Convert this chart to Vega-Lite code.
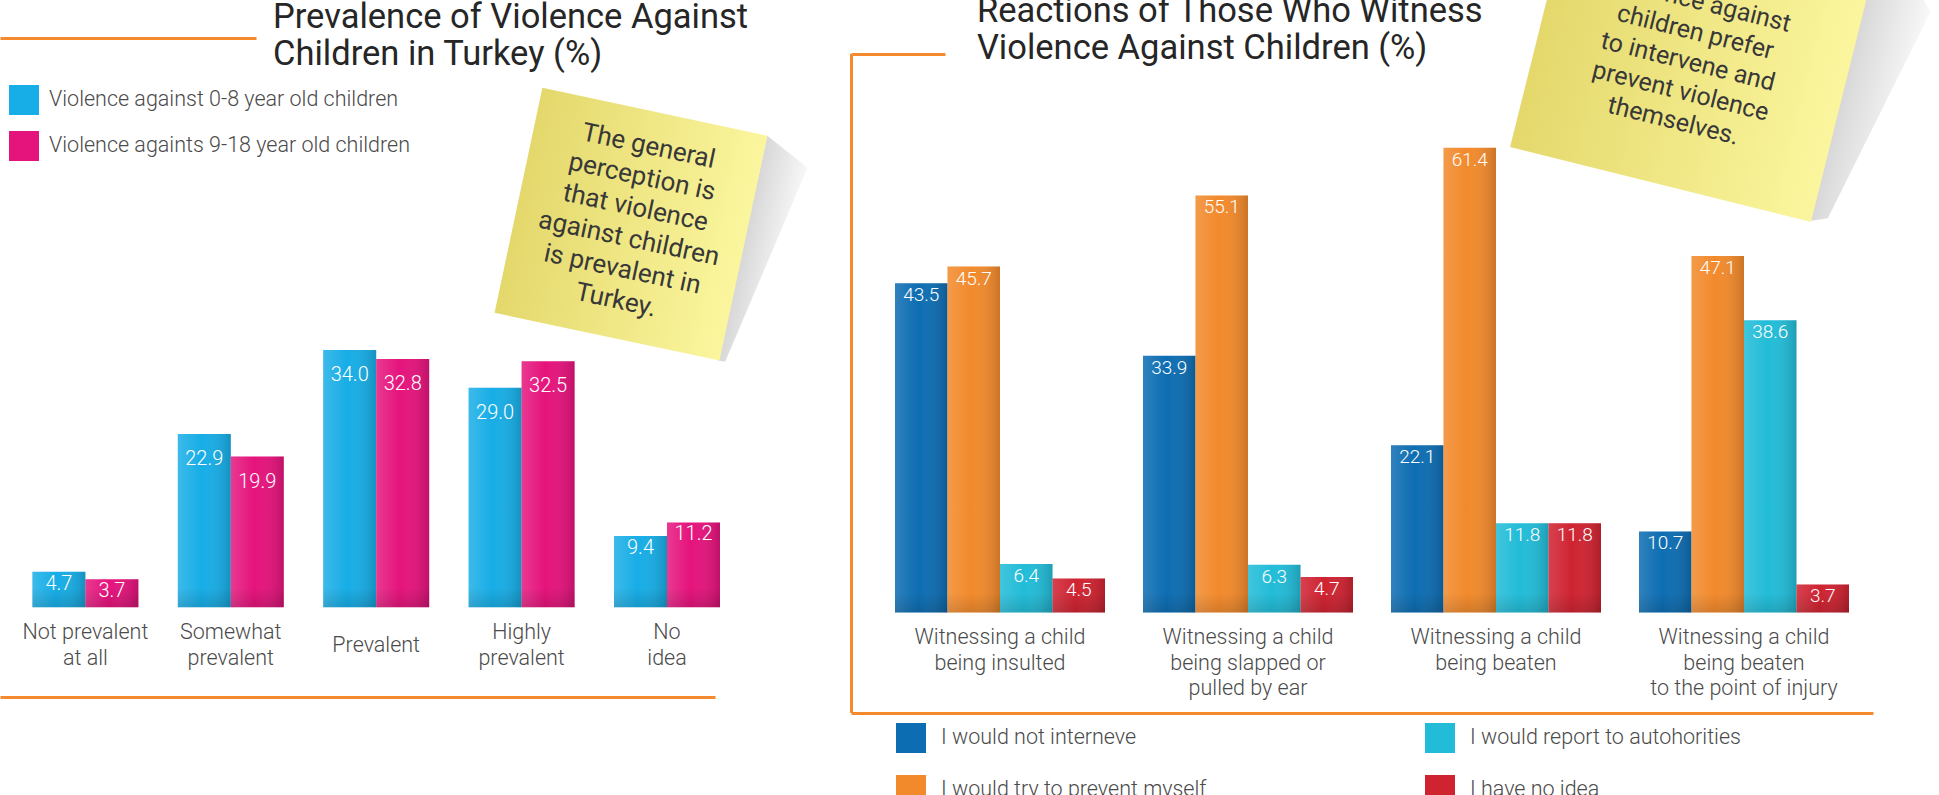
{
  "$schema": "https://vega.github.io/schema/vega-lite/v6.json",
  "width": 1939,
  "height": 795,
  "autosize": {"type": "none"},
  "padding": 0,
  "background": "#ffffff",
  "config": {
    "view": {"stroke": null},
    "font": "Roboto",
    "axis": {"grid": false, "labels": false, "ticks": false, "title": null, "domainColor": "#f58a2e", "domainWidth": 3}
  },
  "datasets": {
    "prevalence": [
      {"category": "Not prevalent\nat all", "series": "Violence against 0-8 year old children", "value": 4.7},
      {"category": "Not prevalent\nat all", "series": "Violence againts 9-18 year old children", "value": 3.7},
      {"category": "Somewhat\nprevalent", "series": "Violence against 0-8 year old children", "value": 22.9},
      {"category": "Somewhat\nprevalent", "series": "Violence againts 9-18 year old children", "value": 19.9},
      {"category": "Prevalent", "series": "Violence against 0-8 year old children", "value": 34.0},
      {"category": "Prevalent", "series": "Violence againts 9-18 year old children", "value": 32.8},
      {"category": "Highly\nprevalent", "series": "Violence against 0-8 year old children", "value": 29.0},
      {"category": "Highly\nprevalent", "series": "Violence againts 9-18 year old children", "value": 32.5},
      {"category": "No\nidea", "series": "Violence against 0-8 year old children", "value": 9.4},
      {"category": "No\nidea", "series": "Violence againts 9-18 year old children", "value": 11.2}
    ],
    "reactions": [
      {"situation": "Witnessing a child\nbeing insulted", "response": "I would not interneve", "value": 43.5},
      {"situation": "Witnessing a child\nbeing insulted", "response": "I would try to prevent myself", "value": 45.7},
      {"situation": "Witnessing a child\nbeing insulted", "response": "I would report to autohorities", "value": 6.4},
      {"situation": "Witnessing a child\nbeing insulted", "response": "I have no idea", "value": 4.5},
      {"situation": "Witnessing a child\nbeing slapped or\npulled by ear", "response": "I would not interneve", "value": 33.9},
      {"situation": "Witnessing a child\nbeing slapped or\npulled by ear", "response": "I would try to prevent myself", "value": 55.1},
      {"situation": "Witnessing a child\nbeing slapped or\npulled by ear", "response": "I would report to autohorities", "value": 6.3},
      {"situation": "Witnessing a child\nbeing slapped or\npulled by ear", "response": "I have no idea", "value": 4.7},
      {"situation": "Witnessing a child\nbeing beaten", "response": "I would not interneve", "value": 22.1},
      {"situation": "Witnessing a child\nbeing beaten", "response": "I would try to prevent myself", "value": 61.4},
      {"situation": "Witnessing a child\nbeing beaten", "response": "I would report to autohorities", "value": 11.8},
      {"situation": "Witnessing a child\nbeing beaten", "response": "I have no idea", "value": 11.8},
      {"situation": "Witnessing a child\nbeing beaten\nto the point of injury", "response": "I would not interneve", "value": 10.7},
      {"situation": "Witnessing a child\nbeing beaten\nto the point of injury", "response": "I would try to prevent myself", "value": 47.1},
      {"situation": "Witnessing a child\nbeing beaten\nto the point of injury", "response": "I would report to autohorities", "value": 38.6},
      {"situation": "Witnessing a child\nbeing beaten\nto the point of injury", "response": "I have no idea", "value": 3.7}
    ]
  },
  "layer": [
    {
      "data": {"name": "prevalence"},
      "layer": [
        {
          "mark": {"type": "bar"},
          "encoding": {
            "x": {"field": "category", "type": "nominal",
              "scale": {"domain": ["Not prevalent\nat all", "Somewhat\nprevalent", "Prevalent", "Highly\nprevalent", "No\nidea"], "range": [0, 720], "paddingInner": 0.271, "paddingOuter": 0.1114, "align": 1, "round": false},
              "axis": {"orient": "bottom", "offset": -98, "domainDash": [715, 3000], "labels": false, "ticks": false, "title": null, "domainColor": "#f58a2e", "domainWidth": 3}},
            "xOffset": {"field": "series", "type": "nominal", "scale": {"domain": ["Violence against 0-8 year old children", "Violence againts 9-18 year old children"]}},
            "y": {"field": "value", "type": "quantitative", "scale": {"domain": [-24.8, 80.22], "nice": false, "zero": false}, "axis": null},
            "color": {"field": "series", "type": "nominal",
              "scale": {"domain": ["Violence against 0-8 year old children", "Violence againts 9-18 year old children"], "range": ["#17ade6", "#e5137c"]},
              "legend": {"orient": "none", "legendX": 9, "legendY": 85, "title": null, "direction": "vertical", "symbolType": "square", "symbolSize": 900, "symbolStrokeWidth": 0, "labelFont": "Roboto", "labelFontWeight": 300, "labelFontSize": 21.5, "labelColor": "#4a4a4a", "labelOffset": 10, "rowPadding": 16, "labelLimit": 700}}
          }
        },
        {
          "mark": {"type": "bar", "color": {"gradient": "linear", "x1": 0, "y1": 0, "x2": 1, "y2": 0, "stops": [{"offset": 0, "color": "rgba(255,255,255,0.16)"}, {"offset": 0.45, "color": "rgba(255,255,255,0)"}, {"offset": 1, "color": "rgba(0,0,0,0.16)"}]}},
          "encoding": {
            "x": {"field": "category", "type": "nominal",
              "scale": {"domain": ["Not prevalent\nat all", "Somewhat\nprevalent", "Prevalent", "Highly\nprevalent", "No\nidea"], "range": [0, 720], "paddingInner": 0.271, "paddingOuter": 0.1114, "align": 1, "round": false},
              "axis": {"orient": "top", "offset": -38, "domainDash": [256, 3000], "labels": false, "ticks": false, "title": null, "domainColor": "#f58a2e", "domainWidth": 3}},
            "xOffset": {"field": "series", "type": "nominal", "scale": {"domain": ["Violence against 0-8 year old children", "Violence againts 9-18 year old children"]}},
            "y": {"field": "value", "type": "quantitative", "scale": {"domain": [-24.8, 80.22], "nice": false, "zero": false}, "axis": null}
          }
        },
        {
          "mark": {"type": "bar", "color": {"gradient": "linear", "x1": 0, "y1": 0, "x2": 0, "y2": 1, "stops": [{"offset": 0, "color": "rgba(0,0,0,0)"}, {"offset": 1, "color": "rgba(0,0,0,0.13)"}]}},
          "encoding": {
            "x": {"field": "category", "type": "nominal", "scale": {"domain": ["Not prevalent\nat all", "Somewhat\nprevalent", "Prevalent", "Highly\nprevalent", "No\nidea"], "range": [0, 720], "paddingInner": 0.271, "paddingOuter": 0.1114, "align": 1, "round": false}, "axis": null},
            "xOffset": {"field": "series", "type": "nominal", "scale": {"domain": ["Violence against 0-8 year old children", "Violence againts 9-18 year old children"]}},
            "y": {"datum": 2.6, "type": "quantitative", "scale": {"domain": [-24.8, 80.22], "nice": false, "zero": false}, "axis": null},
            "y2": {"datum": 0}
          }
        },
        {
          "transform": [{"filter": "datum.value >= 15"}],
          "mark": {"type": "text", "baseline": "middle", "dy": 25, "fontSize": 20, "fontWeight": 300, "color": "#ffffff"},
          "encoding": {
            "x": {"field": "category", "type": "nominal", "scale": {"domain": ["Not prevalent\nat all", "Somewhat\nprevalent", "Prevalent", "Highly\nprevalent", "No\nidea"], "range": [0, 720], "paddingInner": 0.271, "paddingOuter": 0.1114, "align": 1, "round": false}, "axis": null},
            "xOffset": {"field": "series", "type": "nominal", "scale": {"domain": ["Violence against 0-8 year old children", "Violence againts 9-18 year old children"]}},
            "y": {"field": "value", "type": "quantitative", "scale": {"domain": [-24.8, 80.22], "nice": false, "zero": false}, "axis": null},
            "text": {"field": "value", "type": "quantitative", "format": ".1f"}
          }
        },
        {
          "transform": [{"filter": "datum.value < 15"}],
          "mark": {"type": "text", "baseline": "middle", "dy": 12, "fontSize": 20, "fontWeight": 300, "color": "#ffffff"},
          "encoding": {
            "x": {"field": "category", "type": "nominal", "scale": {"domain": ["Not prevalent\nat all", "Somewhat\nprevalent", "Prevalent", "Highly\nprevalent", "No\nidea"], "range": [0, 720], "paddingInner": 0.271, "paddingOuter": 0.1114, "align": 1, "round": false}, "axis": null},
            "xOffset": {"field": "series", "type": "nominal", "scale": {"domain": ["Violence against 0-8 year old children", "Violence againts 9-18 year old children"]}},
            "y": {"field": "value", "type": "quantitative", "scale": {"domain": [-24.8, 80.22], "nice": false, "zero": false}, "axis": null},
            "text": {"field": "value", "type": "quantitative", "format": ".1f"}
          }
        },
        {
          "transform": [{"filter": "datum.series == 'Violence against 0-8 year old children' && datum.category != 'Prevalent'"}],
          "mark": {"type": "text", "baseline": "middle", "dy": 26, "fontSize": 21.5, "fontWeight": 300, "color": "#4a4a4a", "lineBreak": "\n", "lineHeight": 26},
          "encoding": {
            "x": {"field": "category", "type": "nominal", "scale": {"domain": ["Not prevalent\nat all", "Somewhat\nprevalent", "Prevalent", "Highly\nprevalent", "No\nidea"], "range": [0, 720], "paddingInner": 0.271, "paddingOuter": 0.1114, "align": 1, "round": false}, "axis": null},
            "y": {"datum": 0, "type": "quantitative", "scale": {"domain": [-24.8, 80.22], "nice": false, "zero": false}, "axis": null},
            "text": {"field": "category", "type": "nominal"}
          }
        },
        {
          "transform": [{"filter": "datum.series == 'Violence against 0-8 year old children' && datum.category == 'Prevalent'"}],
          "mark": {"type": "text", "baseline": "middle", "dy": 38.5, "fontSize": 21.5, "fontWeight": 300, "color": "#4a4a4a"},
          "encoding": {
            "x": {"field": "category", "type": "nominal", "scale": {"domain": ["Not prevalent\nat all", "Somewhat\nprevalent", "Prevalent", "Highly\nprevalent", "No\nidea"], "range": [0, 720], "paddingInner": 0.271, "paddingOuter": 0.1114, "align": 1, "round": false}, "axis": null},
            "y": {"datum": 0, "type": "quantitative", "scale": {"domain": [-24.8, 80.22], "nice": false, "zero": false}, "axis": null},
            "text": {"field": "category", "type": "nominal"}
          }
        },
        {
          "data": {"values": [{"title": "Prevalence of Violence Against\nChildren in Turkey (%)"}]},
          "mark": {"type": "text", "align": "left", "baseline": "alphabetic", "fontSize": 34.5, "fontWeight": 400, "color": "#262626", "lineBreak": "\n", "lineHeight": 37},
          "encoding": {
            "x": {"datum": "Somewhat\nprevalent", "type": "nominal", "bandPosition": 0.898, "scale": {"domain": ["Not prevalent\nat all", "Somewhat\nprevalent", "Prevalent", "Highly\nprevalent", "No\nidea"], "range": [0, 720], "paddingInner": 0.271, "paddingOuter": 0.1114, "align": 1, "round": false}, "axis": null},
            "y": {"datum": 76.5, "type": "quantitative", "scale": {"domain": [-24.8, 80.22], "nice": false, "zero": false}, "axis": null},
            "text": {"field": "title", "type": "nominal"}
          }
        },
        {
          "data": {"values": [{"note": "shadow"}]},
          "mark": {"type": "point", "shape": "M 1 -1 L 1.4 -0.8 L 1.05 1 L 0.98 1 Z", "filled": true, "opacity": 1, "size": 52900, "angle": 12, "strokeWidth": 0,
            "fill": {"gradient": "linear", "x1": 0, "y1": 0, "x2": 1, "y2": 0, "stops": [{"offset": 0, "color": "#d6d6d6"}, {"offset": 1, "color": "#f8f8f8"}]}},
          "encoding": {
            "x": {"datum": "No\nidea", "type": "nominal", "bandPosition": 0.16, "scale": {"domain": ["Not prevalent\nat all", "Somewhat\nprevalent", "Prevalent", "Highly\nprevalent", "No\nidea"], "range": [0, 720], "paddingInner": 0.271, "paddingOuter": 0.1114, "align": 1, "round": false}, "axis": null},
            "y": {"datum": 50.6, "type": "quantitative", "scale": {"domain": [-24.8, 80.22], "nice": false, "zero": false}, "axis": null}
          }
        },
        {
          "data": {"values": [{"note": "The general\nperception is\nthat violence\nagainst children\nis prevalent in\nTurkey."}]},
          "mark": {"type": "point", "shape": "square", "filled": true, "opacity": 1, "size": 52900, "angle": 12, "strokeWidth": 0,
            "fill": {"gradient": "linear", "x1": 0, "y1": 0, "x2": 1, "y2": 0, "stops": [{"offset": 0, "color": "#e4d86c"}, {"offset": 1, "color": "#fbf69e"}]}},
          "encoding": {
            "x": {"datum": "No\nidea", "type": "nominal", "bandPosition": 0.16, "scale": {"domain": ["Not prevalent\nat all", "Somewhat\nprevalent", "Prevalent", "Highly\nprevalent", "No\nidea"], "range": [0, 720], "paddingInner": 0.271, "paddingOuter": 0.1114, "align": 1, "round": false}, "axis": null},
            "y": {"datum": 50.6, "type": "quantitative", "scale": {"domain": [-24.8, 80.22], "nice": false, "zero": false}, "axis": null}
          }
        },
        {
          "data": {"values": [{"note": "The general\nperception is\nthat violence\nagainst children\nis prevalent in\nTurkey."}]},
          "mark": {"type": "text", "align": "center", "baseline": "middle", "angle": 12, "dx": 1, "dy": -80, "fontSize": 26, "fontWeight": 400, "color": "#383838", "lineBreak": "\n", "lineHeight": 31.5},
          "encoding": {
            "x": {"datum": "No\nidea", "type": "nominal", "bandPosition": 0.16, "scale": {"domain": ["Not prevalent\nat all", "Somewhat\nprevalent", "Prevalent", "Highly\nprevalent", "No\nidea"], "range": [0, 720], "paddingInner": 0.271, "paddingOuter": 0.1114, "align": 1, "round": false}, "axis": null},
            "y": {"datum": 50.6, "type": "quantitative", "scale": {"domain": [-24.8, 80.22], "nice": false, "zero": false}, "axis": null},
            "text": {"field": "note", "type": "nominal"}
          }
        }
      ],
      "resolve": {"axis": {"x": "independent"}}
    },
    {
      "data": {"name": "reactions"},
      "layer": [
        {
          "mark": {"type": "bar"},
          "encoding": {
            "x": {"field": "situation", "type": "nominal",
              "scale": {"domain": ["Witnessing a child\nbeing insulted", "Witnessing a child\nbeing slapped or\npulled by ear", "Witnessing a child\nbeing beaten", "Witnessing a child\nbeing beaten\nto the point of injury"], "range": [851, 1873], "paddingInner": 0.1532, "paddingOuter": 0.1371, "align": 0.647, "round": false},
              "axis": {"orient": "bottom", "offset": -82, "labels": false, "ticks": false, "title": null, "domainColor": "#f58a2e", "domainWidth": 3}},
            "xOffset": {"field": "response", "type": "nominal", "scale": {"domain": ["I would not interneve", "I would try to prevent myself", "I would report to autohorities", "I have no idea"]}},
            "y": {"field": "value", "type": "quantitative", "scale": {"domain": [-24.11, 80.91], "nice": false, "zero": false},
              "axis": {"orient": "left", "offset": -851, "domainDash": [0, 82.5, 659, 3000], "labels": false, "ticks": false, "title": null, "grid": false, "domainColor": "#f58a2e", "domainWidth": 3}},
            "color": {"field": "response", "type": "nominal",
              "scale": {"domain": ["I would not interneve", "I would try to prevent myself", "I would report to autohorities", "I have no idea"], "range": ["#0d6db2", "#f28a2c", "#22bcd8", "#cf2331"]},
              "legend": {"orient": "none", "legendX": 896, "legendY": 723, "title": null, "columns": 2, "columnPadding": 218, "rowPadding": 22, "symbolType": "square", "symbolSize": 900, "symbolStrokeWidth": 0, "labelFont": "Roboto", "labelFontWeight": 300, "labelFontSize": 21.5, "labelColor": "#4a4a4a", "labelOffset": 15, "labelLimit": 700}}
          }
        },
        {
          "mark": {"type": "bar", "color": {"gradient": "linear", "x1": 0, "y1": 0, "x2": 1, "y2": 0, "stops": [{"offset": 0, "color": "rgba(255,255,255,0.14)"}, {"offset": 0.45, "color": "rgba(255,255,255,0)"}, {"offset": 1, "color": "rgba(0,0,0,0.16)"}]}},
          "encoding": {
            "x": {"field": "situation", "type": "nominal",
              "scale": {"domain": ["Witnessing a child\nbeing insulted", "Witnessing a child\nbeing slapped or\npulled by ear", "Witnessing a child\nbeing beaten", "Witnessing a child\nbeing beaten\nto the point of injury"], "range": [851, 1873], "paddingInner": 0.1532, "paddingOuter": 0.1371, "align": 0.647, "round": false},
              "axis": {"orient": "top", "offset": -54, "domainDash": [94, 3000], "labels": false, "ticks": false, "title": null, "domainColor": "#f58a2e", "domainWidth": 3}},
            "xOffset": {"field": "response", "type": "nominal", "scale": {"domain": ["I would not interneve", "I would try to prevent myself", "I would report to autohorities", "I have no idea"]}},
            "y": {"field": "value", "type": "quantitative", "scale": {"domain": [-24.11, 80.91], "nice": false, "zero": false}, "axis": null}
          }
        },
        {
          "mark": {"type": "bar", "color": {"gradient": "linear", "x1": 0, "y1": 0, "x2": 0, "y2": 1, "stops": [{"offset": 0, "color": "rgba(0,0,0,0)"}, {"offset": 1, "color": "rgba(0,0,0,0.13)"}]}},
          "encoding": {
            "x": {"field": "situation", "type": "nominal", "scale": {"domain": ["Witnessing a child\nbeing insulted", "Witnessing a child\nbeing slapped or\npulled by ear", "Witnessing a child\nbeing beaten", "Witnessing a child\nbeing beaten\nto the point of injury"], "range": [851, 1873], "paddingInner": 0.1532, "paddingOuter": 0.1371, "align": 0.647, "round": false}, "axis": null},
            "xOffset": {"field": "response", "type": "nominal", "scale": {"domain": ["I would not interneve", "I would try to prevent myself", "I would report to autohorities", "I have no idea"]}},
            "y": {"datum": 2.6, "type": "quantitative", "scale": {"domain": [-24.11, 80.91], "nice": false, "zero": false}, "axis": null},
            "y2": {"datum": 0}
          }
        },
        {
          "mark": {"type": "text", "baseline": "middle", "dy": 12, "fontSize": 19, "fontWeight": 300, "color": "#ffffff"},
          "encoding": {
            "x": {"field": "situation", "type": "nominal", "scale": {"domain": ["Witnessing a child\nbeing insulted", "Witnessing a child\nbeing slapped or\npulled by ear", "Witnessing a child\nbeing beaten", "Witnessing a child\nbeing beaten\nto the point of injury"], "range": [851, 1873], "paddingInner": 0.1532, "paddingOuter": 0.1371, "align": 0.647, "round": false}, "axis": null},
            "xOffset": {"field": "response", "type": "nominal", "scale": {"domain": ["I would not interneve", "I would try to prevent myself", "I would report to autohorities", "I have no idea"]}},
            "y": {"field": "value", "type": "quantitative", "scale": {"domain": [-24.11, 80.91], "nice": false, "zero": false}, "axis": null},
            "text": {"field": "value", "type": "quantitative", "format": ".1f"}
          }
        },
        {
          "transform": [{"filter": "datum.response == 'I would not interneve'"}],
          "mark": {"type": "text", "baseline": "top", "dy": 15, "fontSize": 21.5, "fontWeight": 300, "color": "#4a4a4a", "lineBreak": "\n", "lineHeight": 25.3},
          "encoding": {
            "x": {"field": "situation", "type": "nominal", "scale": {"domain": ["Witnessing a child\nbeing insulted", "Witnessing a child\nbeing slapped or\npulled by ear", "Witnessing a child\nbeing beaten", "Witnessing a child\nbeing beaten\nto the point of injury"], "range": [851, 1873], "paddingInner": 0.1532, "paddingOuter": 0.1371, "align": 0.647, "round": false}, "axis": null},
            "y": {"datum": 0, "type": "quantitative", "scale": {"domain": [-24.11, 80.91], "nice": false, "zero": false}, "axis": null},
            "text": {"field": "situation", "type": "nominal"}
          }
        },
        {
          "data": {"values": [{"title": "Reactions of Those Who Witness\nViolence Against Children (%)"}]},
          "mark": {"type": "text", "align": "left", "baseline": "alphabetic", "fontSize": 34.5, "fontWeight": 400, "color": "#262626", "lineBreak": "\n", "lineHeight": 37},
          "encoding": {
            "x": {"datum": "Witnessing a child\nbeing insulted", "type": "nominal", "bandPosition": 0.39, "scale": {"domain": ["Witnessing a child\nbeing insulted", "Witnessing a child\nbeing slapped or\npulled by ear", "Witnessing a child\nbeing beaten", "Witnessing a child\nbeing beaten\nto the point of injury"], "range": [851, 1873], "paddingInner": 0.1532, "paddingOuter": 0.1371, "align": 0.647, "round": false}, "axis": null},
            "y": {"datum": 78.0, "type": "quantitative", "scale": {"domain": [-24.11, 80.91], "nice": false, "zero": false}, "axis": null},
            "text": {"field": "title", "type": "nominal"}
          }
        },
        {
          "data": {"values": [{"note": "shadow"}]},
          "mark": {"type": "point", "shape": "M 0.97 -1 L 1.42 -0.5 L 1.1 0.95 L 0.98 1 Z", "filled": true, "opacity": 1, "size": 96100, "angle": 14, "strokeWidth": 0,
            "fill": {"gradient": "linear", "x1": 0, "y1": 0, "x2": 1, "y2": 0, "stops": [{"offset": 0, "color": "#d6d6d6"}, {"offset": 1, "color": "#f8f8f8"}]}},
          "encoding": {
            "x": {"datum": "Witnessing a child\nbeing beaten\nto the point of injury", "type": "nominal", "bandPosition": 0.281, "scale": {"domain": ["Witnessing a child\nbeing insulted", "Witnessing a child\nbeing slapped or\npulled by ear", "Witnessing a child\nbeing beaten", "Witnessing a child\nbeing beaten\nto the point of injury"], "range": [851, 1873], "paddingInner": 0.1532, "paddingOuter": 0.1371, "align": 0.647, "round": false}, "axis": null},
            "y": {"datum": 76.4, "type": "quantitative", "scale": {"domain": [-24.11, 80.91], "nice": false, "zero": false}, "axis": null}
          }
        },
        {
          "data": {"values": [{"note": "Most of those\nwho witness\nviolence against\nchildren prefer\nto intervene and\nprevent violence\nthemselves."}]},
          "mark": {"type": "point", "shape": "square", "filled": true, "opacity": 1, "size": 96100, "angle": 14, "strokeWidth": 0,
            "fill": {"gradient": "linear", "x1": 0, "y1": 0, "x2": 1, "y2": 0, "stops": [{"offset": 0, "color": "#e4d86c"}, {"offset": 1, "color": "#fbf69e"}]}},
          "encoding": {
            "x": {"datum": "Witnessing a child\nbeing beaten\nto the point of injury", "type": "nominal", "bandPosition": 0.281, "scale": {"domain": ["Witnessing a child\nbeing insulted", "Witnessing a child\nbeing slapped or\npulled by ear", "Witnessing a child\nbeing beaten", "Witnessing a child\nbeing beaten\nto the point of injury"], "range": [851, 1873], "paddingInner": 0.1532, "paddingOuter": 0.1371, "align": 0.647, "round": false}, "axis": null},
            "y": {"datum": 76.4, "type": "quantitative", "scale": {"domain": [-24.11, 80.91], "nice": false, "zero": false}, "axis": null}
          }
        },
        {
          "data": {"values": [{"note": "Most of those\nwho witness\nviolence against\nchildren prefer\nto intervene and\nprevent violence\nthemselves."}]},
          "mark": {"type": "text", "align": "center", "baseline": "middle", "angle": 14, "dx": -3, "dy": -93, "fontSize": 25, "fontWeight": 400, "color": "#383838", "lineBreak": "\n", "lineHeight": 30.5},
          "encoding": {
            "x": {"datum": "Witnessing a child\nbeing beaten\nto the point of injury", "type": "nominal", "bandPosition": 0.281, "scale": {"domain": ["Witnessing a child\nbeing insulted", "Witnessing a child\nbeing slapped or\npulled by ear", "Witnessing a child\nbeing beaten", "Witnessing a child\nbeing beaten\nto the point of injury"], "range": [851, 1873], "paddingInner": 0.1532, "paddingOuter": 0.1371, "align": 0.647, "round": false}, "axis": null},
            "y": {"datum": 76.4, "type": "quantitative", "scale": {"domain": [-24.11, 80.91], "nice": false, "zero": false}, "axis": null},
            "text": {"field": "note", "type": "nominal"}
          }
        }
      ],
      "resolve": {"axis": {"x": "independent", "y": "independent"}}
    }
  ],
  "resolve": {
    "scale": {"x": "independent", "y": "independent", "xOffset": "independent", "color": "independent"},
    "axis": {"x": "independent", "y": "independent"},
    "legend": {"color": "independent"}
  }
}
